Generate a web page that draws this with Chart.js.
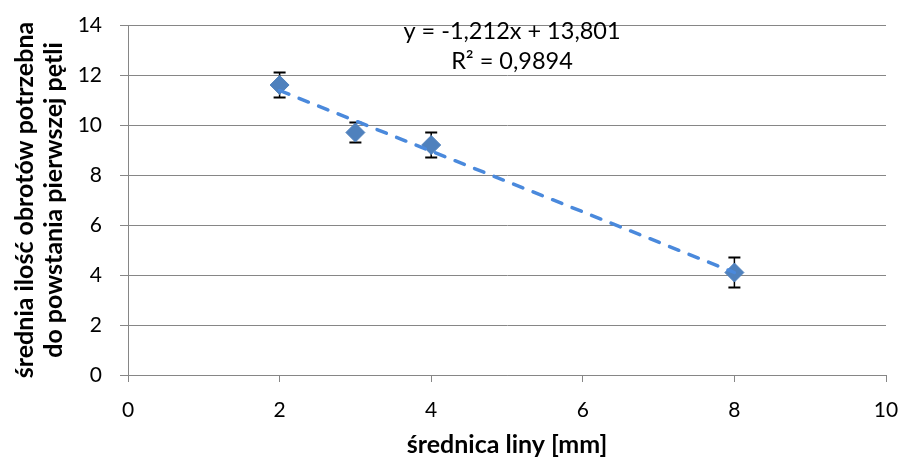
<!DOCTYPE html>
<html>
<head>
<meta charset="utf-8">
<script src="https://cdn.jsdelivr.net/npm/chart.js@4.4.1/dist/chart.umd.min.js"></script>
<style>
  html, body { margin: 0; padding: 0; background: #fff; }
  #wrap { width: 904px; height: 461px; }
</style>
</head>
<body>
<div id="wrap"><canvas id="chart"></canvas></div>
<script>
// rope diameter [mm] vs mean number of turns until first loop forms
const diameters = [2, 3, 4, 8];
const meanTurns = [11.6, 9.7, 9.2, 4.1];
const turnErrors = [0.5, 0.4, 0.5, 0.6];

// linear trendline as drawn (end points)
const trendX = [2, 8];
const trendY = [11.38, 4.1];
const equationLabel = "y = -1,212x + 13,801";
const r2Label = "R² = 0,9894";

const xTitle = "średnica liny [mm]";
const yTitle = ["średnia ilość obrotów potrzebna", "do powstania pierwszej pętli"];

const FONT = "Lato, 'Open Sans', sans-serif";
const GRID = "#868686";
const BLUE = "#4F81BD";
const TREND = "#4A89DC";

const el = (id) => document.getElementById(id);

// error bars go under the markers
const errorBars = {
  id: "errorBars",
  beforeDatasetsDraw(chart) {
    const { ctx, scales: { x, y } } = chart;
    ctx.save();
    ctx.strokeStyle = "#000";
    diameters.forEach((d, i) => {
      const px = x.getPixelForValue(d);
      const top = y.getPixelForValue(meanTurns[i] + turnErrors[i]);
      const bot = y.getPixelForValue(meanTurns[i] - turnErrors[i]);
      ctx.lineWidth = 1.5;
      ctx.beginPath();
      ctx.moveTo(px, top); ctx.lineTo(px, bot);
      ctx.stroke();
      ctx.lineWidth = 2;
      ctx.beginPath();
      ctx.moveTo(px - 6, top); ctx.lineTo(px + 6, top);
      ctx.moveTo(px - 6, bot); ctx.lineTo(px + 6, bot);
      ctx.stroke();
    });
    ctx.restore();
  }
};

const trendLabel = {
  id: "trendLabel",
  afterDraw(chart) {
    const { ctx } = chart;
    ctx.save();
    ctx.fillStyle = "#000";
    ctx.font = "23.5px " + FONT;
    ctx.textAlign = "center";
    ctx.textBaseline = "alphabetic";
    ctx.fillText(equationLabel, 512, 39);
    ctx.fillText(r2Label, 512, 69);
    ctx.restore();
  }
};

window.addEventListener("DOMContentLoaded", () => {
  const ctx = el("chart").getContext("2d");
  new Chart(ctx, {
    type: "scatter",
    data: {
      datasets: [
        {
          label: "trend",
          type: "line",
          data: trendX.map((v, i) => ({ x: v, y: trendY[i] })),
          borderColor: TREND,
          borderWidth: 3.5,
          borderDash: [10, 11],
          borderCapStyle: "round",
          pointRadius: 0,
          fill: false,
          order: 0,
        },
        {
          label: "pomiary",
          data: diameters.map((v, i) => ({ x: v, y: meanTurns[i] })),
          pointStyle: "rectRot",
          pointRadius: 9.5,
          pointBackgroundColor: BLUE,
          pointBorderColor: BLUE,
          pointBorderWidth: 1,
          order: 1,
        }
      ]
    },
    options: {
      responsive: true,
      maintainAspectRatio: false,
      animation: false,
      layout: { padding: { left: 0, right: 18, top: 25, bottom: 0 } },
      plugins: {
        legend: { display: false },
        tooltip: { enabled: false }
      },
      scales: {
        x: {
          type: "linear",
          min: 0, max: 10,
          afterFit: (s) => { s.height = 86; s.paddingLeft = 0; s.paddingRight = 12; },
          ticks: { stepSize: 2, color: "#000", padding: 16, font: { family: FONT, size: 21 } },
          grid: { drawOnChartArea: false, drawTicks: true, tickLength: 7, color: GRID, tickColor: GRID },
          border: { display: true, color: GRID, width: 1 },
          title: { display: true, text: xTitle, color: "#000", padding: { top: 0, bottom: 1 },
                   font: { family: FONT, size: 25, weight: "bold", lineHeight: 1.2 } }
        },
        y: {
          type: "linear",
          min: 0, max: 14,
          afterFit: (s) => { s.width = 128; s.paddingTop = 13; s.paddingBottom = 13; },
          ticks: { stepSize: 2, color: "#000", padding: 18, font: { family: FONT, size: 21 } },
          grid: { drawTicks: true, tickLength: 8, color: GRID, tickColor: GRID },
          border: { display: true, color: GRID, width: 1 },
          title: { display: true, text: yTitle, color: "#000", padding: { top: 10, bottom: 0 },
                   font: { family: FONT, size: 25, weight: "bold", lineHeight: 1.16 } }
        }
      }
    },
    plugins: [errorBars, trendLabel]
  });
});
</script>
</body>
</html>
